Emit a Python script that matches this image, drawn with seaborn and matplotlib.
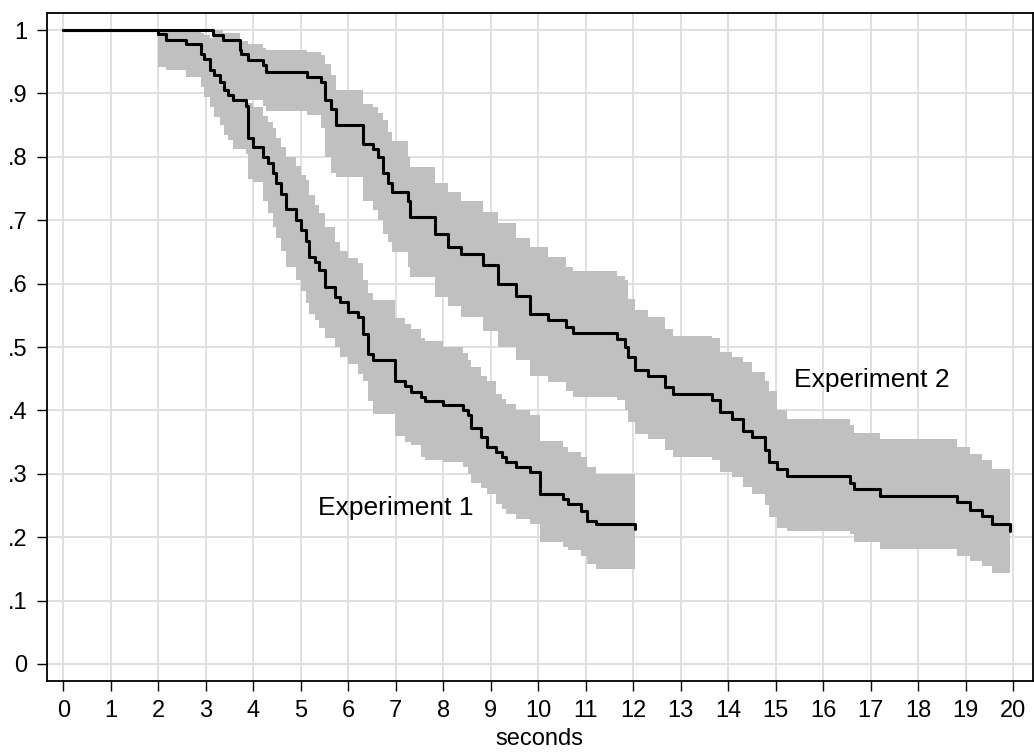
import seaborn as sns
import matplotlib.pyplot as plt

# Experiment 1: survival steps and confidence band
t1 = [0, 1.99, 2.16, 2.59, 2.90, 2.97, 3.08, 3.18, 3.29, 3.39, 3.46, 3.57, 3.85, 3.89, 3.99,
      4.20, 4.31, 4.41, 4.48, 4.59, 4.69, 4.90, 5.01, 5.11, 5.18, 5.29, 5.39, 5.50, 5.71, 5.82,
      5.99, 6.20, 6.31, 6.41, 6.52, 6.98, 7.19, 7.33, 7.54, 7.61, 8.00, 8.42, 8.52, 8.59, 8.80,
      8.91, 9.12, 9.23, 9.33, 9.54, 9.82, 10.03, 10.52, 10.63, 10.91, 11.02, 11.22, 12.03]
s1 = [1.0, 0.994, 0.985, 0.978, 0.963, 0.954, 0.937, 0.929, 0.918, 0.905, 0.897, 0.889, 0.880, 0.829, 0.816,
      0.800, 0.790, 0.774, 0.758, 0.742, 0.717, 0.700, 0.684, 0.668, 0.642, 0.634, 0.621, 0.594, 0.579, 0.571,
      0.555, 0.547, 0.521, 0.489, 0.479, 0.447, 0.439, 0.429, 0.421, 0.415, 0.408, 0.400, 0.392, 0.373, 0.358,
      0.342, 0.334, 0.326, 0.318, 0.310, 0.302, 0.268, 0.260, 0.252, 0.242, 0.226, 0.220, 0.213]
hi1 = [1.0, 1.0, 1.0, 0.998, 0.995, 0.992, 0.988, 0.982, 0.975, 0.968, 0.962, 0.955, 0.948, 0.885, 0.878,
       0.865, 0.855, 0.845, 0.830, 0.815, 0.800, 0.785, 0.772, 0.763, 0.740, 0.724, 0.712, 0.690, 0.665, 0.652,
       0.640, 0.632, 0.605, 0.585, 0.574, 0.545, 0.536, 0.528, 0.515, 0.510, 0.500, 0.490, 0.479, 0.468, 0.455,
       0.447, 0.426, 0.418, 0.410, 0.400, 0.392, 0.352, 0.342, 0.335, 0.326, 0.310, 0.300, 0.300]
lo1 = [1.0, 0.942, 0.937, 0.926, 0.910, 0.895, 0.879, 0.863, 0.850, 0.835, 0.826, 0.812, 0.805, 0.765, 0.760,
       0.731, 0.712, 0.689, 0.672, 0.652, 0.626, 0.605, 0.589, 0.570, 0.552, 0.542, 0.530, 0.515, 0.500, 0.484,
       0.473, 0.458, 0.447, 0.415, 0.395, 0.360, 0.350, 0.345, 0.326, 0.322, 0.318, 0.310, 0.300, 0.286, 0.278,
       0.268, 0.252, 0.244, 0.236, 0.228, 0.221, 0.192, 0.185, 0.179, 0.170, 0.158, 0.150, 0.145]

# Experiment 2
t2 = [0, 3.15, 3.36, 3.71, 3.75, 3.89, 4.20, 4.27, 5.12, 5.43, 5.50, 5.64, 5.75, 6.31, 6.52,
      6.63, 6.73, 6.84, 6.91, 7.26, 7.29, 7.82, 8.10, 8.38, 8.84, 9.15, 9.54, 9.82, 10.21, 10.59,
      10.73, 11.65, 11.82, 11.89, 12.03, 12.32, 12.67, 12.84, 13.65, 13.83, 14.07, 14.32, 14.49, 14.77, 14.85,
      15.02, 15.23, 16.57, 16.64, 17.20, 18.81, 19.09, 19.34, 19.55, 19.94]
s2 = [1.0, 0.992, 0.984, 0.968, 0.963, 0.953, 0.945, 0.934, 0.926, 0.918, 0.889, 0.876, 0.850, 0.821, 0.813,
      0.800, 0.774, 0.758, 0.745, 0.731, 0.705, 0.679, 0.658, 0.647, 0.629, 0.600, 0.581, 0.552, 0.542, 0.531,
      0.522, 0.513, 0.500, 0.484, 0.463, 0.455, 0.437, 0.426, 0.416, 0.397, 0.387, 0.368, 0.358, 0.337, 0.318,
      0.308, 0.296, 0.286, 0.276, 0.265, 0.255, 0.243, 0.233, 0.221, 0.210]
hi2 = [1.0, 1.0, 0.995, 0.985, 0.983, 0.978, 0.972, 0.969, 0.965, 0.960, 0.947, 0.929, 0.905, 0.884, 0.878,
       0.870, 0.858, 0.840, 0.825, 0.800, 0.784, 0.758, 0.745, 0.731, 0.713, 0.695, 0.672, 0.658, 0.642, 0.627,
       0.620, 0.612, 0.605, 0.576, 0.558, 0.547, 0.529, 0.518, 0.515, 0.492, 0.484, 0.476, 0.460, 0.447, 0.431,
       0.400, 0.387, 0.377, 0.365, 0.355, 0.342, 0.331, 0.321, 0.308, 0.308]
lo2 = [1.0, 0.950, 0.938, 0.910, 0.905, 0.890, 0.880, 0.873, 0.866, 0.845, 0.800, 0.775, 0.768, 0.731, 0.716,
       0.700, 0.679, 0.665, 0.650, 0.626, 0.610, 0.579, 0.565, 0.547, 0.525, 0.500, 0.480, 0.455, 0.445, 0.430,
       0.421, 0.416, 0.400, 0.381, 0.363, 0.355, 0.337, 0.326, 0.321, 0.302, 0.295, 0.279, 0.268, 0.250, 0.232,
       0.215, 0.210, 0.205, 0.192, 0.181, 0.171, 0.163, 0.155, 0.144, 0.137]

x_ticks = list(range(0, 21))
y_ticks = [0, 0.1, 0.2, 0.3, 0.4, 0.5, 0.6, 0.7, 0.8, 0.9, 1.0]
y_labels = ['0', '.1', '.2', '.3', '.4', '.5', '.6', '.7', '.8', '.9', '1']

sns.set_style('white')
plt.rcParams['font.family'] = ['Liberation Sans', 'DejaVu Sans']
plt.rcParams['text.color'] = 'black'
plt.rcParams['axes.labelcolor'] = 'black'
plt.rcParams['xtick.color'] = 'black'
plt.rcParams['ytick.color'] = 'black'

fig = plt.figure(figsize=(10.34, 7.52), dpi=100)
ax = fig.add_axes([0.0452, 0.0944, 0.9535, 0.8883])

band = '#c0c0c0'
ax.fill_between(t1, lo1, hi1, step='post', color=band, linewidth=0, zorder=2)
ax.fill_between(t2, lo2, hi2, step='post', color=band, linewidth=0, zorder=2)
sns.lineplot(x=t1, y=s1, ax=ax, color='black', linewidth=2.2, drawstyle='steps-post',
             estimator=None, zorder=3)
sns.lineplot(x=t2, y=s2, ax=ax, color='black', linewidth=2.2, drawstyle='steps-post',
             estimator=None, zorder=3)

ax.text(7.0, 0.246, 'Experiment 1', ha='center', va='center', fontsize=19)
ax.text(17.03, 0.448, 'Experiment 2', ha='center', va='center', fontsize=19)

ax.set_xlim(-0.35, 20.41)
ax.set_ylim(-0.027, 1.027)
ax.set_xticks(x_ticks)
ax.set_yticks(y_ticks)
ax.set_yticklabels(y_labels)
ax.grid(True, color='#e0e0e0', linewidth=1.4, zorder=0)
ax.set_axisbelow(True)
ax.tick_params(axis='both', direction='out', length=7, width=1, labelsize=17,
               left=True, bottom=True, color='black')
ax.tick_params(axis='y', pad=7)
ax.tick_params(axis='x', pad=7)
for sp in ax.spines.values():
    sp.set_color('black')
    sp.set_linewidth(1.3)
ax.set_xlabel('seconds', fontsize=17, labelpad=4)
ax.set_ylabel('')

fig.savefig('out.png', dpi=100)
